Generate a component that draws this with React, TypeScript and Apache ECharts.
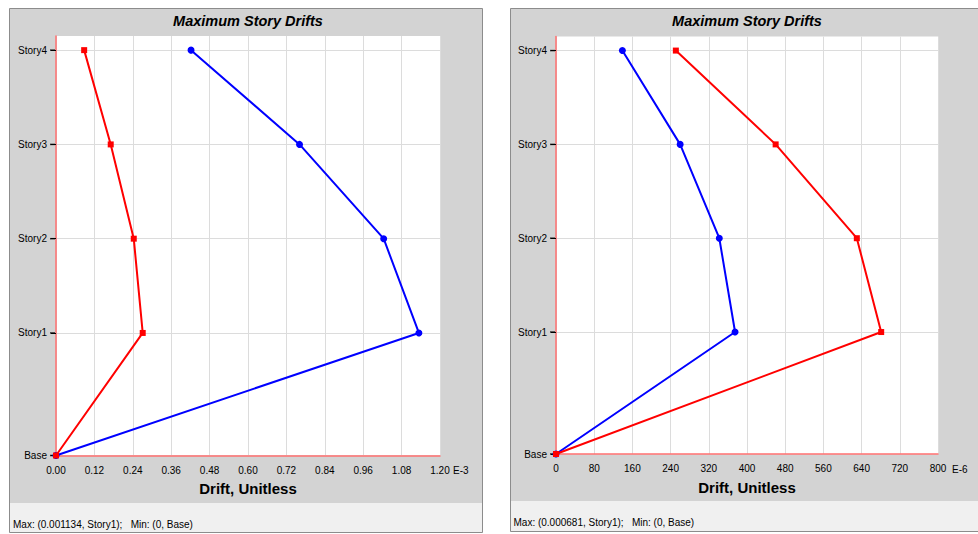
import React, { useEffect, useRef } from "react";
import * as echarts from "echarts";

// ---------- data ----------
const storyNames = ["Base", "Story1", "Story2", "Story3", "Story4"];
const storyElevations = [0, 13, 23, 33, 43];

// left chart (units E-3)
const leftBlueDrift = [0, 1.134, 1.024, 0.761, 0.422];
const leftRedDrift = [0, 0.271, 0.243, 0.171, 0.088];
const leftXMin = 0;
const leftXMax = 1.2;
const leftXInterval = 0.12;
const leftXExponent = "E-3";
const leftFooter = "Max: (0.001134, Story1);   Min: (0, Base)";

// right chart (units E-6)
const rightBlueDrift = [0, 375, 342, 260, 139];
const rightRedDrift = [0, 681, 630, 460, 251];
const rightXMin = 0;
const rightXMax = 800;
const rightXInterval = 80;
const rightXExponent = "E-6";
const rightFooter = "Max: (0.000681, Story1);   Min: (0, Base)";

const chartTitle = "Maximum Story Drifts";
const xAxisTitle = "Drift, Unitless";

// ---------- styles ----------
const FONT = "'Liberation Sans', Arial, sans-serif";
const AXIS_RED = "#ff7070";
const GRID_GRAY = "#dcdcdc";
const PANEL_GRAY = "#d3d3d3";
const FOOTER_GRAY = "#f0f0f0";
const BORDER = "#8c8c8c";

function makeXAxis(gridIndex: number, min: number, max: number, interval: number, fmt: (v: number) => string) {
  return {
    gridIndex,
    type: "value",
    min,
    max,
    interval,
    axisLine: { show: true, onZero: false, lineStyle: { color: AXIS_RED, width: 1.5 } },
    axisTick: { show: false },
    axisLabel: { formatter: fmt, color: "#000", fontSize: 10, fontFamily: FONT, margin: 9.5 },
    splitLine: { show: true, lineStyle: { color: GRID_GRAY, width: 1 } },
  };
}

function makeYAxis(gridIndex: number) {
  return {
    gridIndex,
    type: "value",
    min: 0,
    max: 44.5,
    axisLine: { show: true, onZero: false, lineStyle: { color: AXIS_RED, width: 1.5 } },
    axisTick: { show: true, length: 5, inside: false, lineStyle: { color: "#000", width: 1 }, customValues: storyElevations },
    axisLabel: {
      customValues: storyElevations,
      formatter: (v: number) => {
        const i = storyElevations.indexOf(Math.round(v));
        return i >= 0 ? storyNames[i] : "";
      },
      color: "#000",
      fontSize: 10,
      fontFamily: FONT,
      margin: 9,
    },
    splitLine: { show: true, lineStyle: { color: GRID_GRAY, width: 1 } },
  };
}

function makeSeries(xi: number, drift: number[], color: string, symbol: string, size: number, z: number) {
  return {
    type: "line",
    xAxisIndex: xi,
    yAxisIndex: xi,
    data: storyElevations.map((e, i) => [drift[i], e]),
    symbol,
    symbolSize: size,
    showSymbol: true,
    clip: false,
    color,
    itemStyle: { color },
    lineStyle: { color, width: 2 },
    z,
  };
}

// small tick marks left of the y axis at each story level
function makeTicks(xi: number, xMin: number) {
  return {
    type: "scatter",
    xAxisIndex: xi,
    yAxisIndex: xi,
    data: storyElevations.map((e) => [xMin, e]),
    symbol: "rect",
    symbolSize: [5, 1.5],
    symbolOffset: [-3.5, 0],
    itemStyle: { color: "#000" },
    clip: false,
    silent: true,
    z: 1,
  };
}

function txt(text: string, x: number, y: number, font: string, align: string) {
  return {
    type: "text",
    x,
    y,
    z: 5,
    style: {
      text,
      font,
      fill: "#000",
      textAlign: align,
      align,
      textVerticalAlign: "middle",
      verticalAlign: "middle",
    },
  };
}

export default function App() {
  const ref = useRef<HTMLDivElement>(null);
  useEffect(() => {
    if (!ref.current) return;
    const chart = echarts.init(ref.current, null, { renderer: "svg" });
    const titleFont = `italic bold 14.5px ${FONT}`;
    const axisTitleFont = `bold 15px ${FONT}`;
    const smallFont = `10px ${FONT}`;
    chart.setOption({
      animation: false,
      backgroundColor: "#fff",
      grid: [
        { left: 56, top: 36, width: 384, height: 419.5, show: true, backgroundColor: "#fff", borderWidth: 0 },
        { left: 556, top: 36.5, width: 382, height: 417.5, show: true, backgroundColor: "#fff", borderWidth: 0 },
      ],
      xAxis: [
        makeXAxis(0, leftXMin, leftXMax, leftXInterval, (v: number) => v.toFixed(2)),
        makeXAxis(1, rightXMin, rightXMax, rightXInterval, (v: number) => String(Math.round(v))),
      ],
      yAxis: [makeYAxis(0), makeYAxis(1)],
      series: [
        makeTicks(0, leftXMin),
        makeTicks(1, rightXMin),
        makeSeries(0, leftBlueDrift, "#0000ff", "circle", 7, 3),
        makeSeries(0, leftRedDrift, "#ff0000", "rect", 6, 4),
        makeSeries(1, rightBlueDrift, "#0000ff", "circle", 7, 3),
        makeSeries(1, rightRedDrift, "#ff0000", "rect", 6, 4),
      ],
      graphic: [
        { type: "rect", z: -10, shape: { x: 9.5, y: 8.5, width: 473, height: 524 }, style: { fill: PANEL_GRAY, stroke: BORDER, lineWidth: 1 } },
        { type: "rect", z: -9, shape: { x: 10, y: 503, width: 472, height: 29 }, style: { fill: FOOTER_GRAY } },
        { type: "rect", z: -10, shape: { x: 510.5, y: 8.5, width: 480, height: 523 }, style: { fill: PANEL_GRAY, stroke: BORDER, lineWidth: 1 } },
        { type: "rect", z: -9, shape: { x: 511, y: 501, width: 470, height: 30 }, style: { fill: FOOTER_GRAY } },
        txt(chartTitle, 248, 21, titleFont, "center"),
        txt(chartTitle, 747, 21, titleFont, "center"),
        txt(xAxisTitle, 248, 488, axisTitleFont, "center"),
        txt(xAxisTitle, 747, 487, axisTitleFont, "center"),
        txt(leftXExponent, 453, 470.5, smallFont, "left"),
        txt(rightXExponent, 952, 469, smallFont, "left"),
        txt(leftFooter, 13, 524.5, smallFont, "left"),
        txt(rightFooter, 513.5, 522.5, smallFont, "left"),
      ],
    });
    return () => chart.dispose();
  }, []);
  return (
    <div
      ref={ref}
      style={{ position: "fixed", left: 0, top: 0, width: 978, height: 534 }}
    />
  );
}
